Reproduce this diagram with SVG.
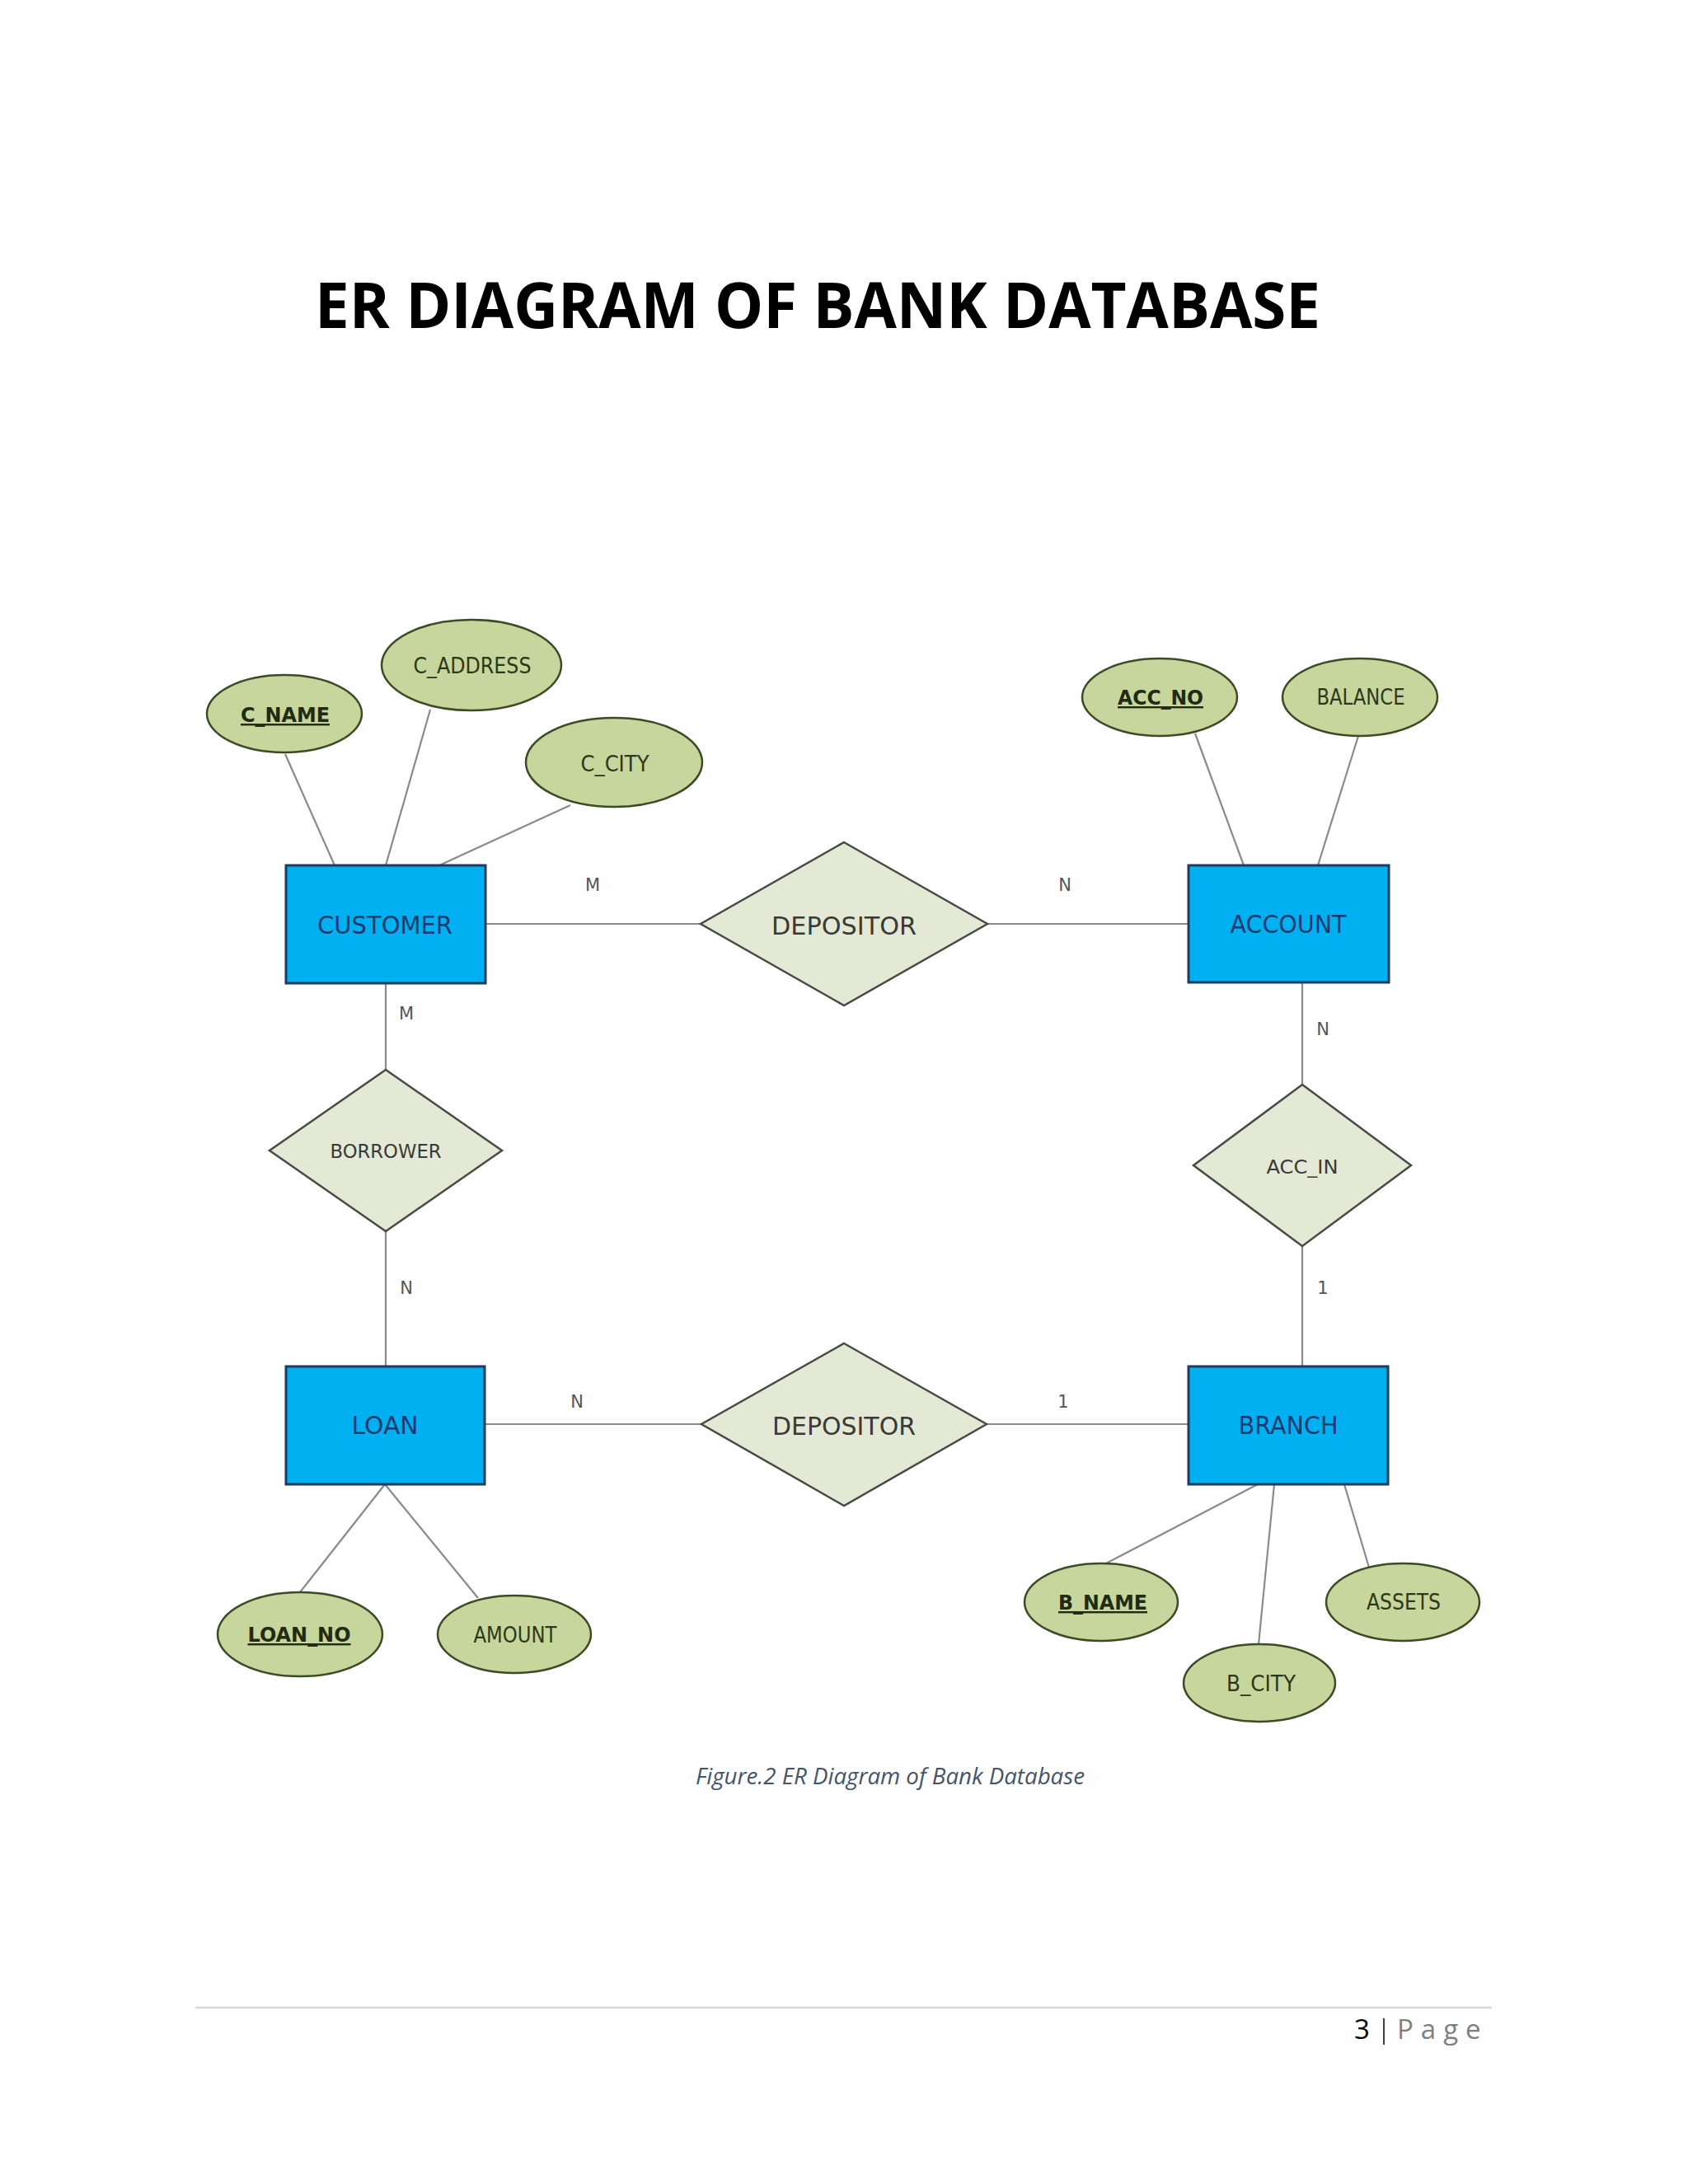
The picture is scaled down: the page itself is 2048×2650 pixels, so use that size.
<svg xmlns="http://www.w3.org/2000/svg" width="2048" height="2650" viewBox="0 0 2048 2650">
<style>
.ent{fill:#00b0f0;stroke:#1f3b5e;stroke-width:3}
.rel{fill:#e4e9d6;stroke:#4a4a44;stroke-width:2.5}
.att{fill:#c6d69c;stroke:#3d4a25;stroke-width:2.5}
.con{stroke:#8a8a8a;stroke-width:2.2;fill:none}
.et{font-family:"DejaVu Sans",sans-serif;font-size:30px;fill:#173a6e;text-anchor:middle}
.rt{font-family:"DejaVu Sans",sans-serif;font-size:30px;fill:#3a3a36;text-anchor:middle}
.rs{font-family:"DejaVu Sans",sans-serif;font-size:23px;fill:#3a3a36;text-anchor:middle}
.at{font-family:"DejaVu Sans",sans-serif;font-size:26px;fill:#2c3819;text-anchor:middle}
.key{font-family:"DejaVu Sans",sans-serif;font-size:24px;font-weight:bold;fill:#222a12;text-anchor:middle;text-decoration:underline}
.card{font-family:"DejaVu Sans",sans-serif;font-size:21px;fill:#555;text-anchor:middle}
</style>
<rect x="0" y="0" width="2048" height="2650" fill="#fefefe"/>
<text x="382" y="398" font-family="'Open Sans',sans-serif" font-weight="bold" font-size="77" fill="#000" textLength="1220" lengthAdjust="spacingAndGlyphs">ER DIAGRAM OF BANK DATABASE</text>

<g id="connectors">
<line class="con" x1="346" y1="915" x2="406" y2="1050"/>
<line class="con" x1="522" y1="861" x2="468" y2="1050"/>
<line class="con" x1="692" y1="977" x2="533" y2="1050"/>
<line class="con" x1="1450" y1="890" x2="1509" y2="1050"/>
<line class="con" x1="1648" y1="893" x2="1599" y2="1050"/>
<line class="con" x1="589" y1="1121" x2="850" y2="1121"/>
<line class="con" x1="1198" y1="1121" x2="1442" y2="1121"/>
<line class="con" x1="468" y1="1193" x2="468" y2="1298"/>
<line class="con" x1="468" y1="1494" x2="468" y2="1658"/>
<line class="con" x1="1580" y1="1192" x2="1580" y2="1316"/>
<line class="con" x1="1580" y1="1512" x2="1580" y2="1658"/>
<line class="con" x1="589" y1="1728" x2="851" y2="1728"/>
<line class="con" x1="1197" y1="1728" x2="1442" y2="1728"/>
<line class="con" x1="467" y1="1801" x2="364" y2="1932"/>
<line class="con" x1="467" y1="1801" x2="580" y2="1939"/>
<line class="con" x1="1526" y1="1801" x2="1340" y2="1898"/>
<line class="con" x1="1546" y1="1801" x2="1527" y2="1995"/>
<line class="con" x1="1631" y1="1801" x2="1661" y2="1902"/>
<text class="card" x="719" y="1081">M</text>
<text class="card" x="1292" y="1081">N</text>
<text class="card" x="493" y="1237">M</text>
<text class="card" x="1605" y="1256">N</text>
<text class="card" x="493" y="1570">N</text>
<text class="card" x="1605" y="1570">1</text>
<text class="card" x="700" y="1708">N</text>
<text class="card" x="1290" y="1708">1</text>
</g>

<g id="customer"><rect class="ent" x="347" y="1050" width="242" height="143"/><text class="et" x="467" y="1133" textLength="164" lengthAdjust="spacingAndGlyphs">CUSTOMER</text></g>
<g id="account"><rect class="ent" x="1442" y="1050" width="243" height="142"/><text class="et" x="1563" y="1132" textLength="141" lengthAdjust="spacingAndGlyphs">ACCOUNT</text></g>
<g id="loan"><rect class="ent" x="347" y="1658" width="241" height="143"/><text class="et" x="467" y="1740" textLength="81" lengthAdjust="spacingAndGlyphs">LOAN</text></g>
<g id="branch"><rect class="ent" x="1442" y="1658" width="242" height="143"/><text class="et" x="1563" y="1740" textLength="121" lengthAdjust="spacingAndGlyphs">BRANCH</text></g>

<g id="depositor1"><polygon class="rel" points="1024,1022 1198,1121 1024,1220 850,1121"/><text class="rt" x="1024" y="1134" textLength="176" lengthAdjust="spacingAndGlyphs">DEPOSITOR</text></g>
<g id="depositor2"><polygon class="rel" points="1024,1630 1197,1728 1024,1827 851,1728"/><text class="rt" x="1024" y="1741" textLength="174" lengthAdjust="spacingAndGlyphs">DEPOSITOR</text></g>
<g id="borrower"><polygon class="rel" points="468,1298 609,1396 468,1494 327,1396"/><text class="rs" x="468" y="1405" textLength="135" lengthAdjust="spacingAndGlyphs">BORROWER</text></g>
<g id="acc_in"><polygon class="rel" points="1580,1316 1712,1414 1580,1512 1448,1414"/><text class="rs" x="1580" y="1424" textLength="87" lengthAdjust="spacingAndGlyphs">ACC_IN</text></g>

<g id="c_name"><ellipse class="att" cx="345" cy="866" rx="94" ry="47"/><text class="key" x="346" y="876" textLength="108" lengthAdjust="spacingAndGlyphs">C_NAME</text></g>
<g id="c_address"><ellipse class="att" cx="572" cy="807" rx="109" ry="55"/><text class="at" x="573" y="817" textLength="143" lengthAdjust="spacingAndGlyphs">C_ADDRESS</text></g>
<g id="c_city"><ellipse class="att" cx="745" cy="925" rx="107" ry="54"/><text class="at" x="746" y="936" textLength="83" lengthAdjust="spacingAndGlyphs">C_CITY</text></g>
<g id="acc_no"><ellipse class="att" cx="1407" cy="846" rx="94" ry="47"/><text class="key" x="1408" y="855" textLength="104" lengthAdjust="spacingAndGlyphs">ACC_NO</text></g>
<g id="balance"><ellipse class="att" cx="1650" cy="846" rx="94" ry="47"/><text class="at" x="1651" y="855" textLength="107" lengthAdjust="spacingAndGlyphs">BALANCE</text></g>
<g id="loan_no"><ellipse class="att" cx="364" cy="1983" rx="100" ry="51"/><text class="key" x="363" y="1992" textLength="125" lengthAdjust="spacingAndGlyphs">LOAN_NO</text></g>
<g id="amount"><ellipse class="att" cx="624" cy="1983" rx="93" ry="47"/><text class="at" x="625" y="1993" textLength="101" lengthAdjust="spacingAndGlyphs">AMOUNT</text></g>
<g id="b_name"><ellipse class="att" cx="1336" cy="1944" rx="93" ry="47"/><text class="key" x="1338" y="1953" textLength="108" lengthAdjust="spacingAndGlyphs">B_NAME</text></g>
<g id="assets"><ellipse class="att" cx="1702" cy="1944" rx="93" ry="47"/><text class="at" x="1703" y="1953" textLength="90" lengthAdjust="spacingAndGlyphs">ASSETS</text></g>
<g id="b_city"><ellipse class="att" cx="1528" cy="2042" rx="92" ry="47"/><text class="at" x="1530" y="2052" textLength="84" lengthAdjust="spacingAndGlyphs">B_CITY</text></g>

<text x="844" y="2165" font-family="'Open Sans',sans-serif" font-style="italic" font-size="27" fill="#44546a" textLength="472" lengthAdjust="spacingAndGlyphs">Figure.2 ER Diagram of Bank Database</text>

<line x1="237" y1="2436" x2="1810" y2="2436" stroke="#d9d9d9" stroke-width="2.5"/>
<text x="1643" y="2474" font-family="'Open Sans',sans-serif" font-size="33" fill="#000">3</text>
<line x1="1679" y1="2449" x2="1679" y2="2481" stroke="#000" stroke-width="1.5"/>
<text x="1695" y="2474" font-family="'Open Sans',sans-serif" font-size="33" fill="#7f7f7f" letter-spacing="9">Page</text>
</svg>
